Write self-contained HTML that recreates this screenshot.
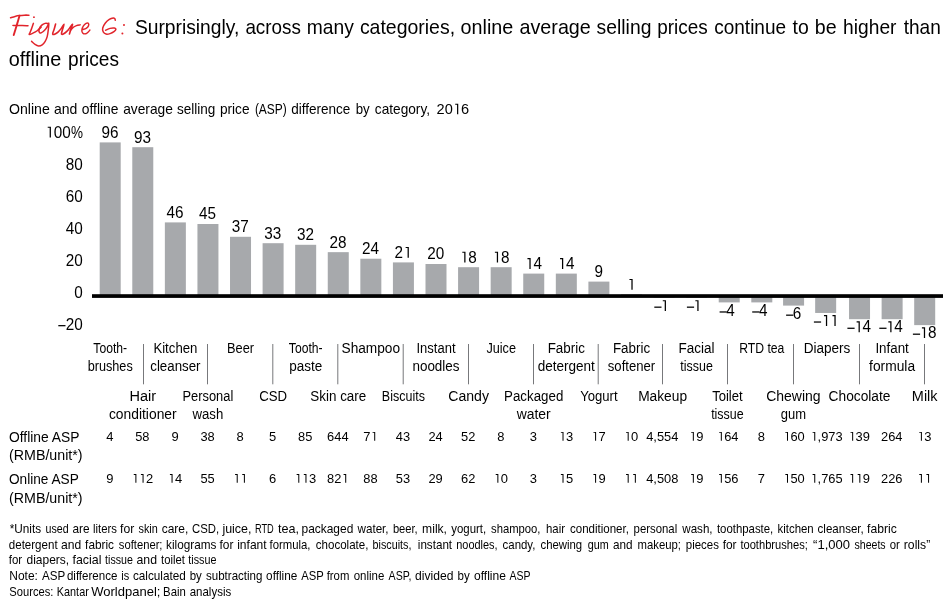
<!DOCTYPE html>
<html><head><meta charset="utf-8"><title>Figure 6</title>
<style>
html,body{margin:0;padding:0;background:#fff;}
body{width:950px;height:615px;overflow:hidden;}
svg{display:block;will-change:transform;}
text{font-family:"Liberation Sans",sans-serif;}
</style></head><body>
<svg width="950" height="615" viewBox="0 0 950 615">
<rect x="0" y="0" width="950" height="615" fill="#ffffff"/>
<text x="134.9" y="34.4" font-size="21.0" textLength="104.4" lengthAdjust="spacingAndGlyphs">Surprisingly,</text>
<text x="245.4" y="34.4" font-size="21.0" textLength="55.5" lengthAdjust="spacingAndGlyphs">across</text>
<text x="306.7" y="34.4" font-size="21.0" textLength="47.1" lengthAdjust="spacingAndGlyphs">many</text>
<text x="359.9" y="34.4" font-size="21.0" textLength="95.2" lengthAdjust="spacingAndGlyphs">categories,</text>
<text x="460.5" y="34.4" font-size="21.0" textLength="52.8" lengthAdjust="spacingAndGlyphs">online</text>
<text x="519.5" y="34.4" font-size="21.0" textLength="71.3" lengthAdjust="spacingAndGlyphs">average</text>
<text x="596.6" y="34.4" font-size="21.0" textLength="54.8" lengthAdjust="spacingAndGlyphs">selling</text>
<text x="657.2" y="34.4" font-size="21.0" textLength="50.5" lengthAdjust="spacingAndGlyphs">prices</text>
<text x="714.2" y="34.4" font-size="21.0" textLength="71.9" lengthAdjust="spacingAndGlyphs">continue</text>
<text x="792.6" y="34.4" font-size="21.0" textLength="16.2" lengthAdjust="spacingAndGlyphs">to</text>
<text x="814.8" y="34.4" font-size="21.0" textLength="21.8" lengthAdjust="spacingAndGlyphs">be</text>
<text x="843.1" y="34.4" font-size="21.0" textLength="53.4" lengthAdjust="spacingAndGlyphs">higher</text>
<text x="903.7" y="34.4" font-size="21.0" textLength="37.1" lengthAdjust="spacingAndGlyphs">than</text>
<text x="8.8" y="66.0" font-size="21.0" textLength="52.6" lengthAdjust="spacingAndGlyphs">offline</text>
<text x="68.1" y="66.0" font-size="21.0" textLength="50.9" lengthAdjust="spacingAndGlyphs">prices</text>
<g fill="none" stroke="#e1242b" stroke-linecap="round" stroke-linejoin="round">
<path d="M10.58,17.80 C11.32,17.57 13.56,16.81 15.01,16.44 C16.46,16.07 17.75,15.79 19.30,15.58 C20.85,15.37 22.70,15.22 24.31,15.15 C25.92,15.08 28.18,15.15 28.95,15.15" stroke-width="1.51"/>
<path d="M19.52,15.72 C19.30,16.46 18.74,18.40 18.23,20.16 C17.72,21.91 17.00,24.39 16.44,26.23 C15.88,28.08 15.32,29.77 14.87,31.24 C14.41,32.71 13.91,34.40 13.72,35.03" stroke-width="1.90"/>
<path d="M12.87,25.38 C13.58,25.41 15.61,25.58 17.16,25.59 C18.71,25.60 20.35,25.42 22.16,25.45 C23.97,25.47 27.05,25.69 28.02,25.73" stroke-width="1.46"/>
<path d="M33.39,23.37 C33.13,24.15 32.35,26.53 31.81,28.02 C31.28,29.51 30.59,31.22 30.17,32.31 C29.75,33.41 28.86,34.46 29.31,34.60 C29.76,34.74 31.58,33.81 32.89,33.17 C34.20,32.53 35.81,31.74 37.18,30.74 C38.55,29.74 40.45,27.76 41.11,27.16" stroke-width="1.51"/>
<path d="M48.12,23.45 C47.61,23.43 46.09,23.09 45.04,23.37 C43.99,23.66 42.78,24.27 41.83,25.16 C40.87,26.06 39.76,27.60 39.32,28.74 C38.88,29.87 38.88,31.26 39.18,31.95 C39.48,32.65 40.13,33.24 41.11,32.88 C42.09,32.53 43.93,31.04 45.04,29.81 C46.15,28.58 47.14,26.59 47.76,25.52 C48.38,24.45 48.67,22.72 48.76,23.37 C48.86,24.03 48.59,27.25 48.33,29.45 C48.07,31.66 47.74,34.58 47.19,36.60 C46.64,38.63 45.88,40.24 45.04,41.61 C44.21,42.98 43.26,44.11 42.18,44.83 C41.11,45.54 39.80,45.98 38.61,45.90 C37.42,45.81 36.20,45.09 35.03,44.32 C33.86,43.56 32.17,41.82 31.60,41.32" stroke-width="1.51"/>
<path d="M55.58,24.09 C55.36,24.92 54.69,27.60 54.22,29.09 C53.76,30.58 53.02,32.13 52.79,33.03 C52.57,33.92 52.56,34.27 52.87,34.46 C53.18,34.65 53.80,34.58 54.65,34.17 C55.51,33.77 56.91,32.99 58.01,32.03 C59.12,31.06 60.30,29.69 61.30,28.38 C62.30,27.07 63.79,24.04 64.02,24.16 C64.25,24.28 63.08,27.62 62.66,29.09 C62.24,30.57 61.66,32.16 61.52,33.03 C61.37,33.90 61.43,34.19 61.80,34.31 C62.17,34.43 62.90,34.24 63.73,33.74 C64.57,33.24 65.76,32.34 66.81,31.31 C67.86,30.29 69.06,28.77 70.03,27.59 C70.99,26.41 72.46,23.92 72.60,24.23 C72.74,24.54 71.41,27.84 70.88,29.45 C70.36,31.06 69.69,33.15 69.45,33.88" stroke-width="1.62"/>
<path d="M70.17,30.74 C70.62,30.23 71.84,28.52 72.89,27.66 C73.94,26.81 75.25,26.06 76.46,25.59 C77.68,25.13 79.56,24.99 80.18,24.88" stroke-width="1.51"/>
<path d="M82.90,29.45 C83.43,29.27 85.19,28.97 86.12,28.38 C87.05,27.78 88.11,26.71 88.48,25.88 C88.84,25.04 88.73,23.79 88.33,23.37 C87.94,22.96 86.96,22.90 86.12,23.37 C85.27,23.85 83.97,25.10 83.26,26.23 C82.54,27.37 81.88,29.01 81.83,30.17 C81.77,31.32 82.24,32.57 82.90,33.17 C83.55,33.77 84.86,33.94 85.76,33.74 C86.65,33.54 87.57,32.57 88.26,31.95 C88.95,31.33 89.63,30.35 89.91,30.02" stroke-width="1.46"/>
<path d="M115.32,20.30 C115.25,20.04 115.23,19.11 114.89,18.73 C114.54,18.34 114.17,17.89 113.24,18.01 C112.31,18.13 110.62,18.61 109.31,19.44 C108.00,20.28 106.48,21.59 105.38,23.02 C104.28,24.45 103.09,26.53 102.73,28.02 C102.38,29.51 102.67,30.94 103.23,31.95 C103.79,32.97 104.96,33.83 106.09,34.10 C107.23,34.37 108.72,34.02 110.03,33.60 C111.34,33.18 112.98,32.31 113.96,31.60 C114.94,30.88 115.83,29.90 115.89,29.31 C115.95,28.71 115.29,28.18 114.32,28.02 C113.34,27.87 111.48,28.00 110.03,28.38 C108.57,28.76 106.33,29.99 105.59,30.31" stroke-width="1.51"/>
</g>
<circle cx="33.96" cy="17.15" r="0.93" fill="#e1242b"/>
<circle cx="123.97" cy="25.02" r="1.00" fill="#e1242b"/>
<circle cx="122.40" cy="33.38" r="1.00" fill="#e1242b"/>
<text x="9.0" y="114.2" font-size="14.8" textLength="40.8" lengthAdjust="spacingAndGlyphs">Online</text>
<text x="54.0" y="114.2" font-size="14.8" textLength="23.4" lengthAdjust="spacingAndGlyphs">and</text>
<text x="81.8" y="114.2" font-size="14.8" textLength="36.7" lengthAdjust="spacingAndGlyphs">offline</text>
<text x="123.2" y="114.2" font-size="14.8" textLength="49.7" lengthAdjust="spacingAndGlyphs">average</text>
<text x="177.0" y="114.2" font-size="14.8" textLength="38.4" lengthAdjust="spacingAndGlyphs">selling</text>
<text x="219.9" y="114.2" font-size="14.8" textLength="29.6" lengthAdjust="spacingAndGlyphs">price</text>
<text x="254.9" y="114.2" font-size="14.8" textLength="31.9" lengthAdjust="spacingAndGlyphs">(ASP)</text>
<text x="291.2" y="114.2" font-size="14.8" textLength="59.2" lengthAdjust="spacingAndGlyphs">difference</text>
<text x="355.7" y="114.2" font-size="14.8" textLength="14.0" lengthAdjust="spacingAndGlyphs">by</text>
<text x="374.8" y="114.2" font-size="14.8" textLength="55.2" lengthAdjust="spacingAndGlyphs">category,</text>
<text x="436.6" y="114.2" font-size="15.4" textLength="16.2" lengthAdjust="spacingAndGlyphs">20</text>
<path d="M455.21,103.70H458.25V114.20H457.05V104.84H455.21Z"/>
<text x="460.9" y="114.2" font-size="15.4" textLength="8.1" lengthAdjust="spacingAndGlyphs">6</text>
<g fill="#a7a9ac">
<rect x="99.70" y="142.40" width="21.0" height="153.60"/>
<rect x="132.28" y="147.20" width="21.0" height="148.80"/>
<rect x="164.86" y="222.40" width="21.0" height="73.60"/>
<rect x="197.44" y="224.00" width="21.0" height="72.00"/>
<rect x="230.02" y="236.80" width="21.0" height="59.20"/>
<rect x="262.60" y="243.20" width="21.0" height="52.80"/>
<rect x="295.18" y="244.80" width="21.0" height="51.20"/>
<rect x="327.76" y="252.16" width="21.0" height="43.84"/>
<rect x="360.34" y="258.72" width="21.0" height="37.28"/>
<rect x="392.92" y="262.40" width="21.0" height="33.60"/>
<rect x="425.50" y="264.00" width="21.0" height="32.00"/>
<rect x="458.08" y="267.20" width="21.0" height="28.80"/>
<rect x="490.66" y="267.20" width="21.0" height="28.80"/>
<rect x="523.24" y="273.60" width="21.0" height="22.40"/>
<rect x="555.82" y="273.60" width="21.0" height="22.40"/>
<rect x="588.40" y="281.60" width="21.0" height="14.40"/>
<rect x="620.98" y="294.40" width="21.0" height="1.60"/>
<rect x="653.56" y="296.00" width="21.0" height="1.60"/>
<rect x="686.14" y="296.00" width="21.0" height="1.60"/>
<rect x="718.72" y="296.00" width="21.0" height="6.40"/>
<rect x="751.30" y="296.00" width="21.0" height="6.40"/>
<rect x="783.08" y="296.00" width="21.0" height="9.60"/>
<rect x="815.16" y="296.00" width="21.0" height="16.96"/>
<rect x="849.04" y="296.00" width="21.0" height="23.20"/>
<rect x="881.62" y="296.00" width="21.0" height="23.20"/>
<rect x="914.20" y="296.00" width="21.0" height="29.12"/>
</g>
<rect x="92" y="294.2" width="851" height="3.7"/>
<text x="70.9" y="137.6" font-size="16.0" textLength="12.0" lengthAdjust="spacingAndGlyphs">%</text>
<path d="M47.72,126.69H50.91V137.60H49.66V127.87H47.72Z"/>
<text x="53.7" y="137.6" font-size="16.0" textLength="17.0" lengthAdjust="spacingAndGlyphs">00</text>
<text x="65.8" y="169.6" font-size="16.0" textLength="17.0" lengthAdjust="spacingAndGlyphs">80</text>
<text x="65.8" y="201.6" font-size="16.0" textLength="17.0" lengthAdjust="spacingAndGlyphs">60</text>
<text x="65.8" y="233.6" font-size="16.0" textLength="17.0" lengthAdjust="spacingAndGlyphs">40</text>
<text x="65.8" y="265.6" font-size="16.0" textLength="17.0" lengthAdjust="spacingAndGlyphs">20</text>
<text x="74.3" y="297.6" font-size="16.0" textLength="8.5" lengthAdjust="spacingAndGlyphs">0</text>
<text x="65.8" y="329.6" font-size="16.0" textLength="17.0" lengthAdjust="spacingAndGlyphs">20</text>
<rect x="58.3" y="325.05" width="7.2" height="1.25"/>
<text x="101.4" y="137.8" font-size="16.0" textLength="17.0" lengthAdjust="spacingAndGlyphs">96</text>
<text x="134.0" y="142.6" font-size="16.0" textLength="17.0" lengthAdjust="spacingAndGlyphs">93</text>
<text x="166.6" y="217.8" font-size="16.0" textLength="17.0" lengthAdjust="spacingAndGlyphs">46</text>
<text x="199.1" y="219.4" font-size="16.0" textLength="17.0" lengthAdjust="spacingAndGlyphs">45</text>
<text x="231.7" y="232.2" font-size="16.0" textLength="17.0" lengthAdjust="spacingAndGlyphs">37</text>
<text x="264.3" y="238.6" font-size="16.0" textLength="17.0" lengthAdjust="spacingAndGlyphs">33</text>
<text x="296.9" y="240.2" font-size="16.0" textLength="17.0" lengthAdjust="spacingAndGlyphs">32</text>
<text x="329.5" y="247.6" font-size="16.0" textLength="17.0" lengthAdjust="spacingAndGlyphs">28</text>
<text x="362.0" y="254.1" font-size="16.0" textLength="17.0" lengthAdjust="spacingAndGlyphs">24</text>
<text x="394.6" y="257.8" font-size="16.0" textLength="8.5" lengthAdjust="spacingAndGlyphs">2</text>
<path d="M405.64,246.89H408.83V257.80H407.58V248.07H405.64Z"/>
<text x="427.2" y="259.4" font-size="16.0" textLength="17.0" lengthAdjust="spacingAndGlyphs">20</text>
<path d="M462.30,251.69H465.49V262.60H464.24V252.87H462.30Z"/>
<text x="468.3" y="262.6" font-size="16.0" textLength="8.5" lengthAdjust="spacingAndGlyphs">8</text>
<path d="M494.88,251.69H498.07V262.60H496.82V252.87H494.88Z"/>
<text x="500.9" y="262.6" font-size="16.0" textLength="8.5" lengthAdjust="spacingAndGlyphs">8</text>
<path d="M527.46,258.09H530.65V269.00H529.40V259.27H527.46Z"/>
<text x="533.4" y="269.0" font-size="16.0" textLength="8.5" lengthAdjust="spacingAndGlyphs">4</text>
<path d="M560.04,258.09H563.23V269.00H561.98V259.27H560.04Z"/>
<text x="566.0" y="269.0" font-size="16.0" textLength="8.5" lengthAdjust="spacingAndGlyphs">4</text>
<text x="594.4" y="277.0" font-size="16.0" textLength="8.5" lengthAdjust="spacingAndGlyphs">9</text>
<path d="M629.45,278.89H632.64V289.80H631.39V280.07H629.45Z"/>
<path d="M662.77,300.19H665.96V311.10H664.71V301.37H662.77Z"/>
<rect x="654.30" y="306.55" width="7.2" height="1.25"/>
<path d="M695.37,300.19H698.56V311.10H697.31V301.37H695.37Z"/>
<rect x="686.90" y="306.55" width="7.2" height="1.25"/>
<text x="726.3" y="315.9" font-size="16.0" textLength="8.5" lengthAdjust="spacingAndGlyphs">4</text>
<rect x="719.60" y="311.35" width="7.2" height="1.25"/>
<text x="758.9" y="315.9" font-size="16.0" textLength="8.5" lengthAdjust="spacingAndGlyphs">4</text>
<rect x="752.20" y="311.35" width="7.2" height="1.25"/>
<text x="792.7" y="319.1" font-size="16.0" textLength="8.5" lengthAdjust="spacingAndGlyphs">6</text>
<rect x="786.10" y="314.55" width="7.2" height="1.25"/>
<path d="M823.97,315.05H827.16V325.96H825.91V316.23H823.97Z"/>
<path d="M832.47,315.05H835.66V325.96H834.41V316.23H832.47Z"/>
<rect x="813.90" y="321.41" width="7.2" height="1.25"/>
<path d="M856.62,321.29H859.81V332.20H858.56V322.47H856.62Z"/>
<text x="862.6" y="332.2" font-size="16.0" textLength="8.5" lengthAdjust="spacingAndGlyphs">4</text>
<rect x="847.40" y="327.65" width="7.2" height="1.25"/>
<path d="M888.32,321.29H891.51V332.20H890.26V322.47H888.32Z"/>
<text x="894.3" y="332.2" font-size="16.0" textLength="8.5" lengthAdjust="spacingAndGlyphs">4</text>
<rect x="879.30" y="327.65" width="7.2" height="1.25"/>
<path d="M921.92,327.21H925.11V338.12H923.86V328.39H921.92Z"/>
<text x="927.9" y="338.1" font-size="16.0" textLength="8.5" lengthAdjust="spacingAndGlyphs">8</text>
<rect x="912.90" y="333.57" width="7.2" height="1.25"/>
<text x="110.2" y="352.8" font-size="14" text-anchor="middle" textLength="33.8" lengthAdjust="spacingAndGlyphs">Tooth-</text>
<text x="110.2" y="370.5" font-size="14" text-anchor="middle" textLength="45.1" lengthAdjust="spacingAndGlyphs">brushes</text>
<text x="142.8" y="400.8" font-size="14" text-anchor="middle" textLength="26.6" lengthAdjust="spacingAndGlyphs">Hair</text>
<text x="142.8" y="418.5" font-size="14" text-anchor="middle" textLength="67.7" lengthAdjust="spacingAndGlyphs">conditioner</text>
<text x="175.4" y="352.8" font-size="14" text-anchor="middle" textLength="44.0" lengthAdjust="spacingAndGlyphs">Kitchen</text>
<text x="175.4" y="370.5" font-size="14" text-anchor="middle" textLength="50.3" lengthAdjust="spacingAndGlyphs">cleanser</text>
<text x="207.9" y="400.8" font-size="14" text-anchor="middle" textLength="50.8" lengthAdjust="spacingAndGlyphs">Personal</text>
<text x="207.9" y="418.5" font-size="14" text-anchor="middle" textLength="30.8" lengthAdjust="spacingAndGlyphs">wash</text>
<text x="240.5" y="352.8" font-size="14" text-anchor="middle" textLength="27.0" lengthAdjust="spacingAndGlyphs">Beer</text>
<text x="273.1" y="400.8" font-size="14" text-anchor="middle" textLength="27.9" lengthAdjust="spacingAndGlyphs">CSD</text>
<text x="305.7" y="352.8" font-size="14" text-anchor="middle" textLength="33.8" lengthAdjust="spacingAndGlyphs">Tooth-</text>
<text x="305.7" y="370.5" font-size="14" text-anchor="middle" textLength="33.0" lengthAdjust="spacingAndGlyphs">paste</text>
<text x="338.3" y="400.8" font-size="14" text-anchor="middle" textLength="55.9" lengthAdjust="spacingAndGlyphs">Skin care</text>
<text x="370.8" y="352.8" font-size="14" text-anchor="middle" textLength="58.6" lengthAdjust="spacingAndGlyphs">Shampoo</text>
<text x="403.4" y="400.8" font-size="14" text-anchor="middle" textLength="43.1" lengthAdjust="spacingAndGlyphs">Biscuits</text>
<text x="436.0" y="352.8" font-size="14" text-anchor="middle" textLength="39.0" lengthAdjust="spacingAndGlyphs">Instant</text>
<text x="436.0" y="370.5" font-size="14" text-anchor="middle" textLength="47.1" lengthAdjust="spacingAndGlyphs">noodles</text>
<text x="468.6" y="400.8" font-size="14" text-anchor="middle" textLength="40.7" lengthAdjust="spacingAndGlyphs">Candy</text>
<text x="501.2" y="352.8" font-size="14" text-anchor="middle" textLength="29.6" lengthAdjust="spacingAndGlyphs">Juice</text>
<text x="533.7" y="400.8" font-size="14" text-anchor="middle" textLength="59.2" lengthAdjust="spacingAndGlyphs">Packaged</text>
<text x="533.7" y="418.5" font-size="14" text-anchor="middle" textLength="34.0" lengthAdjust="spacingAndGlyphs">water</text>
<text x="566.3" y="352.8" font-size="14" text-anchor="middle" textLength="37.2" lengthAdjust="spacingAndGlyphs">Fabric</text>
<text x="566.3" y="370.5" font-size="14" text-anchor="middle" textLength="57.2" lengthAdjust="spacingAndGlyphs">detergent</text>
<text x="598.9" y="400.8" font-size="14" text-anchor="middle" textLength="37.4" lengthAdjust="spacingAndGlyphs">Yogurt</text>
<text x="631.5" y="352.8" font-size="14" text-anchor="middle" textLength="37.2" lengthAdjust="spacingAndGlyphs">Fabric</text>
<text x="631.5" y="370.5" font-size="14" text-anchor="middle" textLength="47.4" lengthAdjust="spacingAndGlyphs">softener</text>
<text x="662.6" y="400.8" font-size="14" text-anchor="middle" textLength="48.9" lengthAdjust="spacingAndGlyphs">Makeup</text>
<text x="696.6" y="352.8" font-size="14" text-anchor="middle" textLength="36.0" lengthAdjust="spacingAndGlyphs">Facial</text>
<text x="696.6" y="370.5" font-size="14" text-anchor="middle" textLength="32.5" lengthAdjust="spacingAndGlyphs">tissue</text>
<text x="727.4" y="400.8" font-size="14" text-anchor="middle" textLength="30.5" lengthAdjust="spacingAndGlyphs">Toilet</text>
<text x="727.4" y="418.5" font-size="14" text-anchor="middle" textLength="32.5" lengthAdjust="spacingAndGlyphs">tissue</text>
<text x="761.8" y="352.8" font-size="14" text-anchor="middle" textLength="45.2" lengthAdjust="spacingAndGlyphs">RTD tea</text>
<text x="793.4" y="400.8" font-size="14" text-anchor="middle" textLength="54.4" lengthAdjust="spacingAndGlyphs">Chewing</text>
<text x="793.4" y="418.5" font-size="14" text-anchor="middle" textLength="25.3" lengthAdjust="spacingAndGlyphs">gum</text>
<text x="827.0" y="352.8" font-size="14" text-anchor="middle" textLength="46.7" lengthAdjust="spacingAndGlyphs">Diapers</text>
<text x="859.5" y="400.8" font-size="14" text-anchor="middle" textLength="61.8" lengthAdjust="spacingAndGlyphs">Chocolate</text>
<text x="892.1" y="352.8" font-size="14" text-anchor="middle" textLength="33.4" lengthAdjust="spacingAndGlyphs">Infant</text>
<text x="892.1" y="370.5" font-size="14" text-anchor="middle" textLength="46.0" lengthAdjust="spacingAndGlyphs">formula</text>
<text x="924.7" y="400.8" font-size="14" text-anchor="middle" textLength="25.7" lengthAdjust="spacingAndGlyphs">Milk</text>
<g fill="#77787b">
<rect x="143" y="344" width="1" height="40.3"/>
<rect x="207" y="344" width="1" height="40.3"/>
<rect x="272.3" y="344" width="1" height="40.3"/>
<rect x="337.3" y="344" width="1" height="40.3"/>
<rect x="402.7" y="344" width="1" height="40.3"/>
<rect x="468" y="344" width="1" height="40.3"/>
<rect x="533" y="344" width="1" height="40.3"/>
<rect x="597.7" y="344" width="1" height="40.3"/>
<rect x="662" y="344" width="1" height="40.3"/>
<rect x="727" y="344" width="1" height="40.3"/>
<rect x="793" y="344" width="1" height="40.3"/>
<rect x="859" y="344" width="1" height="40.3"/>
<rect x="924" y="344" width="1" height="40.3"/>
</g>
<text x="9.0" y="442.0" font-size="14.3" textLength="70.5" lengthAdjust="spacingAndGlyphs">Offline ASP</text>
<text x="9.0" y="460.4" font-size="14.3" textLength="73.6" lengthAdjust="spacingAndGlyphs">(RMB/unit*)</text>
<text x="9.0" y="483.9" font-size="14.3" textLength="69.8" lengthAdjust="spacingAndGlyphs">Online ASP</text>
<text x="9.0" y="502.5" font-size="14.3" textLength="73.6" lengthAdjust="spacingAndGlyphs">(RMB/unit*)</text>
<text x="106.2" y="440.7" font-size="12.9" textLength="7.2" lengthAdjust="spacingAndGlyphs">4</text>
<text x="135.2" y="440.7" font-size="12.9" textLength="14.3" lengthAdjust="spacingAndGlyphs">58</text>
<text x="171.4" y="440.7" font-size="12.9" textLength="7.2" lengthAdjust="spacingAndGlyphs">9</text>
<text x="200.4" y="440.7" font-size="12.9" textLength="14.3" lengthAdjust="spacingAndGlyphs">38</text>
<text x="236.5" y="440.7" font-size="12.9" textLength="7.2" lengthAdjust="spacingAndGlyphs">8</text>
<text x="269.1" y="440.7" font-size="12.9" textLength="7.2" lengthAdjust="spacingAndGlyphs">5</text>
<text x="298.1" y="440.7" font-size="12.9" textLength="14.3" lengthAdjust="spacingAndGlyphs">85</text>
<text x="327.1" y="440.7" font-size="12.9" textLength="21.5" lengthAdjust="spacingAndGlyphs">644</text>
<text x="363.3" y="440.7" font-size="12.9" textLength="7.2" lengthAdjust="spacingAndGlyphs">7</text>
<path d="M372.57,431.90H375.21V440.70H374.21V432.86H372.57Z"/>
<text x="395.8" y="440.7" font-size="12.9" textLength="14.3" lengthAdjust="spacingAndGlyphs">43</text>
<text x="428.4" y="440.7" font-size="12.9" textLength="14.3" lengthAdjust="spacingAndGlyphs">24</text>
<text x="461.0" y="440.7" font-size="12.9" textLength="14.3" lengthAdjust="spacingAndGlyphs">52</text>
<text x="497.2" y="440.7" font-size="12.9" textLength="7.2" lengthAdjust="spacingAndGlyphs">8</text>
<text x="529.8" y="440.7" font-size="12.9" textLength="7.2" lengthAdjust="spacingAndGlyphs">3</text>
<path d="M560.88,431.90H563.52V440.70H562.51V432.86H560.88Z"/>
<text x="565.9" y="440.7" font-size="12.9" textLength="7.2" lengthAdjust="spacingAndGlyphs">3</text>
<path d="M593.46,431.90H596.10V440.70H595.09V432.86H593.46Z"/>
<text x="598.5" y="440.7" font-size="12.9" textLength="7.2" lengthAdjust="spacingAndGlyphs">7</text>
<path d="M626.04,431.90H628.68V440.70H627.67V432.86H626.04Z"/>
<text x="631.1" y="440.7" font-size="12.9" textLength="7.2" lengthAdjust="spacingAndGlyphs">0</text>
<text x="646.2" y="440.7" font-size="12.9" textLength="32.2" lengthAdjust="spacingAndGlyphs">4,554</text>
<path d="M691.20,431.90H693.84V440.70H692.83V432.86H691.20Z"/>
<text x="696.2" y="440.7" font-size="12.9" textLength="7.2" lengthAdjust="spacingAndGlyphs">9</text>
<path d="M719.19,431.90H721.83V440.70H720.83V432.86H719.19Z"/>
<text x="724.2" y="440.7" font-size="12.9" textLength="14.3" lengthAdjust="spacingAndGlyphs">64</text>
<text x="757.8" y="440.7" font-size="12.9" textLength="7.2" lengthAdjust="spacingAndGlyphs">8</text>
<path d="M785.35,431.90H787.99V440.70H786.99V432.86H785.35Z"/>
<text x="790.4" y="440.7" font-size="12.9" textLength="14.3" lengthAdjust="spacingAndGlyphs">60</text>
<path d="M812.61,431.90H815.25V440.70H814.24V432.86H812.61Z"/>
<text x="817.6" y="440.7" font-size="12.9" textLength="25.0" lengthAdjust="spacingAndGlyphs">,973</text>
<path d="M850.51,431.90H853.15V440.70H852.15V432.86H850.51Z"/>
<text x="855.6" y="440.7" font-size="12.9" textLength="14.3" lengthAdjust="spacingAndGlyphs">39</text>
<text x="881.0" y="440.7" font-size="12.9" textLength="21.5" lengthAdjust="spacingAndGlyphs">264</text>
<path d="M919.26,431.90H921.90V440.70H920.89V432.86H919.26Z"/>
<text x="924.3" y="440.7" font-size="12.9" textLength="7.2" lengthAdjust="spacingAndGlyphs">3</text>
<text x="106.2" y="482.8" font-size="12.9" textLength="7.2" lengthAdjust="spacingAndGlyphs">9</text>
<path d="M133.75,474.00H136.39V482.80H135.39V474.96H133.75Z"/>
<path d="M140.92,474.00H143.57V482.80H142.56V474.96H140.92Z"/>
<text x="146.0" y="482.8" font-size="12.9" textLength="7.2" lengthAdjust="spacingAndGlyphs">2</text>
<path d="M169.92,474.00H172.56V482.80H171.55V474.96H169.92Z"/>
<text x="175.0" y="482.8" font-size="12.9" textLength="7.2" lengthAdjust="spacingAndGlyphs">4</text>
<text x="200.4" y="482.8" font-size="12.9" textLength="14.3" lengthAdjust="spacingAndGlyphs">55</text>
<path d="M235.08,474.00H237.72V482.80H236.71V474.96H235.08Z"/>
<path d="M242.25,474.00H244.89V482.80H243.89V474.96H242.25Z"/>
<text x="269.1" y="482.8" font-size="12.9" textLength="7.2" lengthAdjust="spacingAndGlyphs">6</text>
<path d="M296.65,474.00H299.29V482.80H298.29V474.96H296.65Z"/>
<path d="M303.82,474.00H306.47V482.80H305.46V474.96H303.82Z"/>
<text x="308.9" y="482.8" font-size="12.9" textLength="7.2" lengthAdjust="spacingAndGlyphs">3</text>
<text x="327.1" y="482.8" font-size="12.9" textLength="14.3" lengthAdjust="spacingAndGlyphs">82</text>
<path d="M343.58,474.00H346.22V482.80H345.21V474.96H343.58Z"/>
<text x="363.3" y="482.8" font-size="12.9" textLength="14.3" lengthAdjust="spacingAndGlyphs">88</text>
<text x="395.8" y="482.8" font-size="12.9" textLength="14.3" lengthAdjust="spacingAndGlyphs">53</text>
<text x="428.4" y="482.8" font-size="12.9" textLength="14.3" lengthAdjust="spacingAndGlyphs">29</text>
<text x="461.0" y="482.8" font-size="12.9" textLength="14.3" lengthAdjust="spacingAndGlyphs">62</text>
<path d="M495.72,474.00H498.36V482.80H497.35V474.96H495.72Z"/>
<text x="500.8" y="482.8" font-size="12.9" textLength="7.2" lengthAdjust="spacingAndGlyphs">0</text>
<text x="529.8" y="482.8" font-size="12.9" textLength="7.2" lengthAdjust="spacingAndGlyphs">3</text>
<path d="M560.88,474.00H563.52V482.80H562.51V474.96H560.88Z"/>
<text x="565.9" y="482.8" font-size="12.9" textLength="7.2" lengthAdjust="spacingAndGlyphs">5</text>
<path d="M593.46,474.00H596.10V482.80H595.09V474.96H593.46Z"/>
<text x="598.5" y="482.8" font-size="12.9" textLength="7.2" lengthAdjust="spacingAndGlyphs">9</text>
<path d="M626.04,474.00H628.68V482.80H627.67V474.96H626.04Z"/>
<path d="M633.21,474.00H635.85V482.80H634.85V474.96H633.21Z"/>
<text x="646.2" y="482.8" font-size="12.9" textLength="32.2" lengthAdjust="spacingAndGlyphs">4,508</text>
<path d="M691.20,474.00H693.84V482.80H692.83V474.96H691.20Z"/>
<text x="696.2" y="482.8" font-size="12.9" textLength="7.2" lengthAdjust="spacingAndGlyphs">9</text>
<path d="M719.19,474.00H721.83V482.80H720.83V474.96H719.19Z"/>
<text x="724.2" y="482.8" font-size="12.9" textLength="14.3" lengthAdjust="spacingAndGlyphs">56</text>
<text x="757.8" y="482.8" font-size="12.9" textLength="7.2" lengthAdjust="spacingAndGlyphs">7</text>
<path d="M785.35,474.00H787.99V482.80H786.99V474.96H785.35Z"/>
<text x="790.4" y="482.8" font-size="12.9" textLength="14.3" lengthAdjust="spacingAndGlyphs">50</text>
<path d="M812.61,474.00H815.25V482.80H814.24V474.96H812.61Z"/>
<text x="817.6" y="482.8" font-size="12.9" textLength="25.0" lengthAdjust="spacingAndGlyphs">,765</text>
<path d="M850.51,474.00H853.15V482.80H852.15V474.96H850.51Z"/>
<path d="M857.68,474.00H860.33V482.80H859.32V474.96H857.68Z"/>
<text x="862.7" y="482.8" font-size="12.9" textLength="7.2" lengthAdjust="spacingAndGlyphs">9</text>
<text x="881.0" y="482.8" font-size="12.9" textLength="21.5" lengthAdjust="spacingAndGlyphs">226</text>
<path d="M919.26,474.00H921.90V482.80H920.89V474.96H919.26Z"/>
<path d="M926.43,474.00H929.07V482.80H928.07V474.96H926.43Z"/>
<text x="9.7" y="532.7" font-size="12.4" textLength="31.4" lengthAdjust="spacingAndGlyphs">*Units</text>
<text x="45.5" y="532.7" font-size="12.4" textLength="23.1" lengthAdjust="spacingAndGlyphs">used</text>
<text x="72.5" y="532.7" font-size="12.4" textLength="17.1" lengthAdjust="spacingAndGlyphs">are</text>
<text x="93.0" y="532.7" font-size="12.4" textLength="23.9" lengthAdjust="spacingAndGlyphs">liters</text>
<text x="120.0" y="532.7" font-size="12.4" textLength="14.2" lengthAdjust="spacingAndGlyphs">for</text>
<text x="138.5" y="532.7" font-size="12.4" textLength="19.3" lengthAdjust="spacingAndGlyphs">skin</text>
<text x="161.7" y="532.7" font-size="12.4" textLength="26.6" lengthAdjust="spacingAndGlyphs">care,</text>
<text x="192.0" y="532.7" font-size="12.4" textLength="27.1" lengthAdjust="spacingAndGlyphs">CSD,</text>
<text x="222.4" y="532.7" font-size="12.4" textLength="29.1" lengthAdjust="spacingAndGlyphs">juice,</text>
<text x="254.9" y="532.7" font-size="12.4" textLength="18.8" lengthAdjust="spacingAndGlyphs">RTD</text>
<text x="277.9" y="532.7" font-size="12.4" textLength="21.0" lengthAdjust="spacingAndGlyphs">tea,</text>
<text x="301.5" y="532.7" font-size="12.4" textLength="51.8" lengthAdjust="spacingAndGlyphs">packaged</text>
<text x="357.5" y="532.7" font-size="12.4" textLength="31.1" lengthAdjust="spacingAndGlyphs">water,</text>
<text x="392.9" y="532.7" font-size="12.4" textLength="24.8" lengthAdjust="spacingAndGlyphs">beer,</text>
<text x="422.1" y="532.7" font-size="12.4" textLength="24.9" lengthAdjust="spacingAndGlyphs">milk,</text>
<text x="451.3" y="532.7" font-size="12.4" textLength="34.9" lengthAdjust="spacingAndGlyphs">yogurt,</text>
<text x="491.0" y="532.7" font-size="12.4" textLength="49.5" lengthAdjust="spacingAndGlyphs">shampoo,</text>
<text x="546.0" y="532.7" font-size="12.4" textLength="19.0" lengthAdjust="spacingAndGlyphs">hair</text>
<text x="570.0" y="532.7" font-size="12.4" textLength="58.9" lengthAdjust="spacingAndGlyphs">conditioner,</text>
<text x="633.6" y="532.7" font-size="12.4" textLength="43.6" lengthAdjust="spacingAndGlyphs">personal</text>
<text x="682.3" y="532.7" font-size="12.4" textLength="30.3" lengthAdjust="spacingAndGlyphs">wash,</text>
<text x="716.9" y="532.7" font-size="12.4" textLength="56.4" lengthAdjust="spacingAndGlyphs">toothpaste,</text>
<text x="777.5" y="532.7" font-size="12.4" textLength="36.2" lengthAdjust="spacingAndGlyphs">kitchen</text>
<text x="817.6" y="532.7" font-size="12.4" textLength="46.1" lengthAdjust="spacingAndGlyphs">cleanser,</text>
<text x="867.1" y="532.7" font-size="12.4" textLength="29.7" lengthAdjust="spacingAndGlyphs">fabric</text>
<text x="8.8" y="548.6" font-size="12.4" textLength="48.8" lengthAdjust="spacingAndGlyphs">detergent</text>
<text x="61.0" y="548.6" font-size="12.4" textLength="20.2" lengthAdjust="spacingAndGlyphs">and</text>
<text x="85.1" y="548.6" font-size="12.4" textLength="28.9" lengthAdjust="spacingAndGlyphs">fabric</text>
<text x="118.8" y="548.6" font-size="12.4" textLength="43.7" lengthAdjust="spacingAndGlyphs">softener;</text>
<text x="166.1" y="548.6" font-size="12.4" textLength="50.3" lengthAdjust="spacingAndGlyphs">kilograms</text>
<text x="219.5" y="548.6" font-size="12.4" textLength="13.9" lengthAdjust="spacingAndGlyphs">for</text>
<text x="237.2" y="548.6" font-size="12.4" textLength="29.4" lengthAdjust="spacingAndGlyphs">infant</text>
<text x="269.5" y="548.6" font-size="12.4" textLength="40.9" lengthAdjust="spacingAndGlyphs">formula,</text>
<text x="315.8" y="548.6" font-size="12.4" textLength="52.6" lengthAdjust="spacingAndGlyphs">chocolate,</text>
<text x="372.6" y="548.6" font-size="12.4" textLength="38.8" lengthAdjust="spacingAndGlyphs">biscuits,</text>
<text x="417.8" y="548.6" font-size="12.4" textLength="34.3" lengthAdjust="spacingAndGlyphs">instant</text>
<text x="456.3" y="548.6" font-size="12.4" textLength="41.3" lengthAdjust="spacingAndGlyphs">noodles,</text>
<text x="502.6" y="548.6" font-size="12.4" textLength="32.8" lengthAdjust="spacingAndGlyphs">candy,</text>
<text x="540.5" y="548.6" font-size="12.4" textLength="41.7" lengthAdjust="spacingAndGlyphs">chewing</text>
<text x="587.7" y="548.6" font-size="12.4" textLength="21.0" lengthAdjust="spacingAndGlyphs">gum</text>
<text x="613.0" y="548.6" font-size="12.4" textLength="19.6" lengthAdjust="spacingAndGlyphs">and</text>
<text x="637.5" y="548.6" font-size="12.4" textLength="43.5" lengthAdjust="spacingAndGlyphs">makeup;</text>
<text x="685.8" y="548.6" font-size="12.4" textLength="33.1" lengthAdjust="spacingAndGlyphs">pieces</text>
<text x="722.7" y="548.6" font-size="12.4" textLength="13.9" lengthAdjust="spacingAndGlyphs">for</text>
<text x="740.4" y="548.6" font-size="12.4" textLength="67.5" lengthAdjust="spacingAndGlyphs">toothbrushes;</text>
<text x="813.1" y="548.6" font-size="12.4" textLength="36.9" lengthAdjust="spacingAndGlyphs">“1,000</text>
<text x="854.5" y="548.6" font-size="12.4" textLength="31.1" lengthAdjust="spacingAndGlyphs">sheets</text>
<text x="889.8" y="548.6" font-size="12.4" textLength="10.1" lengthAdjust="spacingAndGlyphs">or</text>
<text x="903.8" y="548.6" font-size="12.4" textLength="26.4" lengthAdjust="spacingAndGlyphs">rolls”</text>
<text x="8.8" y="564.3" font-size="12.4" textLength="13.4" lengthAdjust="spacingAndGlyphs">for</text>
<text x="26.5" y="564.3" font-size="12.4" textLength="42.6" lengthAdjust="spacingAndGlyphs">diapers,</text>
<text x="72.5" y="564.3" font-size="12.4" textLength="28.9" lengthAdjust="spacingAndGlyphs">facial</text>
<text x="105.1" y="564.3" font-size="12.4" textLength="27.8" lengthAdjust="spacingAndGlyphs">tissue</text>
<text x="136.5" y="564.3" font-size="12.4" textLength="20.5" lengthAdjust="spacingAndGlyphs">and</text>
<text x="161.1" y="564.3" font-size="12.4" textLength="23.8" lengthAdjust="spacingAndGlyphs">toilet</text>
<text x="188.3" y="564.3" font-size="12.4" textLength="28.1" lengthAdjust="spacingAndGlyphs">tissue</text>
<text x="9.3" y="580.2" font-size="12.4" textLength="28.6" lengthAdjust="spacingAndGlyphs">Note:</text>
<text x="42.0" y="580.2" font-size="12.4" textLength="23.2" lengthAdjust="spacingAndGlyphs">ASP</text>
<text x="66.9" y="580.2" font-size="12.4" textLength="50.5" lengthAdjust="spacingAndGlyphs">difference</text>
<text x="121.3" y="580.2" font-size="12.4" textLength="7.9" lengthAdjust="spacingAndGlyphs">is</text>
<text x="132.9" y="580.2" font-size="12.4" textLength="52.9" lengthAdjust="spacingAndGlyphs">calculated</text>
<text x="189.7" y="580.2" font-size="12.4" textLength="12.1" lengthAdjust="spacingAndGlyphs">by</text>
<text x="206.0" y="580.2" font-size="12.4" textLength="56.4" lengthAdjust="spacingAndGlyphs">subtracting</text>
<text x="266.1" y="580.2" font-size="12.4" textLength="31.2" lengthAdjust="spacingAndGlyphs">offline</text>
<text x="301.2" y="580.2" font-size="12.4" textLength="22.5" lengthAdjust="spacingAndGlyphs">ASP</text>
<text x="326.7" y="580.2" font-size="12.4" textLength="22.7" lengthAdjust="spacingAndGlyphs">from</text>
<text x="353.7" y="580.2" font-size="12.4" textLength="30.6" lengthAdjust="spacingAndGlyphs">online</text>
<text x="388.6" y="580.2" font-size="12.4" textLength="22.8" lengthAdjust="spacingAndGlyphs">ASP,</text>
<text x="415.1" y="580.2" font-size="12.4" textLength="38.3" lengthAdjust="spacingAndGlyphs">divided</text>
<text x="457.6" y="580.2" font-size="12.4" textLength="12.2" lengthAdjust="spacingAndGlyphs">by</text>
<text x="474.0" y="580.2" font-size="12.4" textLength="31.9" lengthAdjust="spacingAndGlyphs">offline</text>
<text x="509.4" y="580.2" font-size="12.4" textLength="21.0" lengthAdjust="spacingAndGlyphs">ASP</text>
<text x="9.3" y="595.8" font-size="12.4" textLength="44.1" lengthAdjust="spacingAndGlyphs">Sources:</text>
<text x="56.8" y="595.8" font-size="12.4" textLength="32.0" lengthAdjust="spacingAndGlyphs">Kantar</text>
<text x="91.3" y="595.8" font-size="12.4" textLength="69.1" lengthAdjust="spacingAndGlyphs">Worldpanel;</text>
<text x="163.1" y="595.8" font-size="12.4" textLength="22.7" lengthAdjust="spacingAndGlyphs">Bain</text>
<text x="189.7" y="595.8" font-size="12.4" textLength="41.5" lengthAdjust="spacingAndGlyphs">analysis</text>
</svg>
</body></html>
